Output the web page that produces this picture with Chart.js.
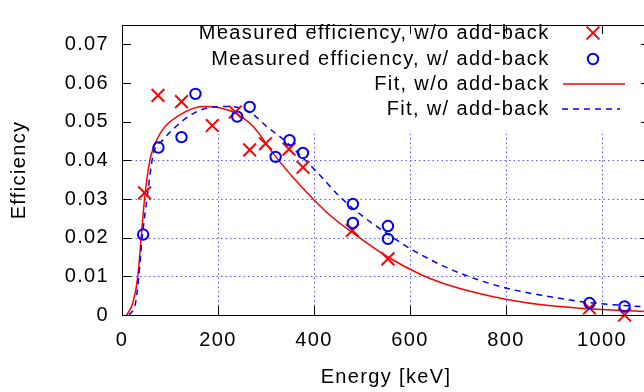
<!DOCTYPE html>
<html>
<head>
<meta charset="utf-8">
<script src="https://cdn.jsdelivr.net/npm/chart.js@4.4.1/dist/chart.umd.min.js"></script>
<style>
html, body { margin: 0; padding: 0; background: #fff; overflow: hidden; }
#wrap { width: 644px; height: 392px; overflow: hidden; position: relative; }
#wrap canvas { position: absolute; left: 0; top: 0; }
</style>
</head>
<body>
<div id="wrap"><canvas id="effChart" width="662" height="392"></canvas></div>
<script>
// measured points (keV, efficiency)
const measEnergyNoAB = [47, 75, 124, 188, 236, 266, 299, 348, 377, 480, 554, 974, 1047];
const measEffNoAB    = [0.0316, 0.0568, 0.0552, 0.0490, 0.0525, 0.0427, 0.0443, 0.0429, 0.0382, 0.0219, 0.0145, 0.0018, 0.0000];

const measEnergyAB = [44, 76, 124, 153, 240, 266, 320, 349, 377, 481, 481, 554, 554, 974, 1047];
const measEffAB    = [0.0208, 0.0433, 0.0460, 0.0572, 0.0513, 0.0538, 0.0409, 0.0452, 0.0419, 0.0287, 0.0238, 0.0230, 0.0197, 0.0031, 0.0022];

// fit curves
const fitEnergyNoAB = [10, 23, 33, 40, 47, 58, 65, 85, 120, 169, 203, 238, 273, 315, 356, 398, 437, 490, 554, 620, 676, 740, 799, 884, 999, 1100];
const fitEffNoAB    = [0, 0.0033, 0.010, 0.020, 0.030, 0.040, 0.0431, 0.0480, 0.0517, 0.0539, 0.0536, 0.0521, 0.0488, 0.0418, 0.0356, 0.0300, 0.0254, 0.0204, 0.0150, 0.0106, 0.0079, 0.0057, 0.0041, 0.0025, 0.0014, 0.0009];

const fitEnergyAB = [15, 28, 35, 42, 52, 65, 85, 113, 148, 190, 224, 266, 301, 340, 382, 412, 453, 502, 565, 600, 662, 717, 799, 884, 967, 1100];
const fitEffAB    = [0, 0.0030, 0.010, 0.020, 0.030, 0.0415, 0.0452, 0.0488, 0.0521, 0.0538, 0.0539, 0.0525, 0.0488, 0.0450, 0.0400, 0.0362, 0.0307, 0.0255, 0.0200, 0.0172, 0.0131, 0.0102, 0.0070, 0.0049, 0.0033, 0.0020];

const xTicks = [0, 200, 400, 600, 800, 1000];
const xTickLabels = ['0', '200', '400', '600', '800', '1000'];
const yTicks = [0, 0.01, 0.02, 0.03, 0.04, 0.05, 0.06, 0.07];
const yTickLabels = ['0', '0.01', '0.02', '0.03', '0.04', '0.05', '0.06', '0.07'];

const legendLabels = [
    'Measured efficiency, w/o add-back',
    'Measured efficiency, w/ add-back',
    'Fit, w/o add-back',
    'Fit, w/ add-back'
];

const RED = '#ff0000';
const BLUE = '#0000ff';
const GRID_COLOR = '#5a5aff';
const FONT = { family: '"Liberation Sans", Arial, sans-serif', size: 20 };
const LETTER_SPACING = '1.35px';
const GRID_TOP = 0.0468; // grid stops below the key box
const TICK_LEN = 9;

const toPoints = (xs, ys) => xs.map((x, i) => ({ x, y: ys[i] }));

const spacingPlugin = {
    id: 'spacing',
    beforeLayout(chart) { chart.ctx.letterSpacing = LETTER_SPACING; },
    beforeDraw(chart) { chart.ctx.letterSpacing = LETTER_SPACING; }
};

const gnuplotFrame = {
    id: 'gnuplotFrame',
    beforeDatasetsDraw(chart) {
        const { ctx, chartArea: a, scales: { x, y } } = chart;
        ctx.save();
        ctx.strokeStyle = GRID_COLOR;
        ctx.lineWidth = 1;
        ctx.setLineDash([1.5, 3]);
        xTicks.forEach(v => {
            if (v === 0) return;
            const px = Math.round(x.getPixelForValue(v)) + 0.5;
            ctx.beginPath();
            ctx.moveTo(px, a.bottom);
            ctx.lineTo(px, y.getPixelForValue(GRID_TOP));
            ctx.stroke();
        });
        yTicks.forEach(v => {
            if (v === 0 || v > GRID_TOP) return;
            const py = Math.round(y.getPixelForValue(v)) + 0.5;
            ctx.beginPath();
            ctx.moveTo(a.left, py);
            ctx.lineTo(a.right, py);
            ctx.stroke();
        });
        ctx.restore();
    },
    afterDatasetsDraw(chart) {
        const { ctx, chartArea: a, scales: { x, y } } = chart;
        ctx.save();
        ctx.strokeStyle = '#000';
        ctx.lineWidth = 1;
        ctx.setLineDash([]);
        ctx.beginPath();
        xTicks.forEach(v => {
            const px = Math.round(x.getPixelForValue(v)) + 0.5;
            ctx.moveTo(px, a.bottom); ctx.lineTo(px, a.bottom - TICK_LEN);
            ctx.moveTo(px, a.top); ctx.lineTo(px, a.top + TICK_LEN);
        });
        yTicks.forEach(v => {
            const py = Math.round(y.getPixelForValue(v)) + 0.5;
            ctx.moveTo(a.left, py); ctx.lineTo(a.left + TICK_LEN, py);
            ctx.moveTo(a.right, py); ctx.lineTo(a.right - TICK_LEN, py);
        });
        ctx.stroke();
        ctx.strokeRect(Math.round(a.left) + 0.5, Math.round(a.top) + 0.5,
            Math.round(a.right - a.left), Math.round(a.bottom - a.top));
        ctx.restore();
    },
    afterDraw(chart) {
        // gnuplot style key: text right-aligned, sample on the right
        const ctx = chart.ctx;
        const textRight = 549.5;
        const rows = [33, 59, 84, 109];
        const mx = 593;
        ctx.save();
        ctx.letterSpacing = LETTER_SPACING;
        ctx.font = `${FONT.size}px ${FONT.family}`;
        ctx.fillStyle = '#000';
        ctx.textAlign = 'right';
        ctx.textBaseline = 'middle';
        legendLabels.forEach((t, i) => ctx.fillText(t, textRight, rows[i]));

        ctx.strokeStyle = RED;
        ctx.lineWidth = 2;
        ctx.beginPath();
        ctx.moveTo(mx - 6.4, rows[0] - 6.4); ctx.lineTo(mx + 6.4, rows[0] + 6.4);
        ctx.moveTo(mx + 6.4, rows[0] - 6.4); ctx.lineTo(mx - 6.4, rows[0] + 6.4);
        ctx.stroke();

        ctx.strokeStyle = BLUE;
        ctx.beginPath();
        ctx.arc(mx, rows[1], 5.2, 0, Math.PI * 2);
        ctx.stroke();

        ctx.lineWidth = 1.5;
        ctx.strokeStyle = RED;
        ctx.beginPath(); ctx.moveTo(563, rows[2]); ctx.lineTo(625, rows[2]); ctx.stroke();

        ctx.strokeStyle = BLUE;
        ctx.setLineDash([6, 5]);
        ctx.beginPath(); ctx.moveTo(562, rows[3]); ctx.lineTo(620, rows[3]); ctx.stroke();
        ctx.restore();
    }
};

new Chart(document.getElementById('effChart'), {
    type: 'scatter',
    data: {
        datasets: [
            {
                label: legendLabels[0],
                data: toPoints(measEnergyNoAB, measEffNoAB),
                pointStyle: 'crossRot',
                pointRadius: 9,
                borderColor: RED,
                backgroundColor: RED,
                borderWidth: 2,
                clip: false,
                order: 1
            },
            {
                label: legendLabels[1],
                data: toPoints(measEnergyAB, measEffAB),
                pointStyle: 'circle',
                pointRadius: 5.2,
                borderColor: BLUE,
                backgroundColor: 'rgba(0,0,0,0)',
                borderWidth: 2,
                clip: false,
                order: 0
            },
            {
                type: 'line',
                label: legendLabels[2],
                data: toPoints(fitEnergyNoAB, fitEffNoAB),
                borderColor: RED,
                borderWidth: 1.5,
                pointRadius: 0,
                fill: false,
                cubicInterpolationMode: 'monotone',
                order: 3
            },
            {
                type: 'line',
                label: legendLabels[3],
                data: toPoints(fitEnergyAB, fitEffAB),
                borderColor: BLUE,
                borderWidth: 1.5,
                borderDash: [6, 5],
                pointRadius: 0,
                fill: false,
                cubicInterpolationMode: 'monotone',
                order: 2
            }
        ]
    },
    options: {
        responsive: false,
        animation: false,
        events: [],
        layout: { padding: { left: 0, right: 12, top: 10, bottom: 0 } },
        plugins: { legend: { display: false }, tooltip: { enabled: false } },
        scales: {
            x: {
                type: 'linear',
                min: 0,
                max: 1100,
                grid: { display: false, drawTicks: false },
                border: { display: false },
                afterBuildTicks: s => { s.ticks = xTicks.map(v => ({ value: v })); },
                afterFit: s => { s.height = 77; },
                ticks: {
                    autoSkip: false,
                    maxRotation: 0,
                    padding: 13,
                    color: '#000',
                    font: FONT,
                    callback: (v, i) => xTickLabels[i]
                },
                title: {
                    display: true,
                    text: 'Energy [keV]',
                    color: '#000',
                    font: FONT,
                    padding: { top: 0, bottom: 3 }
                }
            },
            y: {
                type: 'linear',
                min: 0,
                max: 0.075,
                grid: { display: false, drawTicks: false },
                border: { display: false },
                afterBuildTicks: s => { s.ticks = yTicks.map(v => ({ value: v })); },
                afterFit: s => { s.width = 122; },
                ticks: {
                    autoSkip: false,
                    padding: 13,
                    color: '#000',
                    font: FONT,
                    callback: (v, i) => yTickLabels[i]
                },
                title: {
                    display: true,
                    text: 'Efficiency',
                    color: '#000',
                    font: FONT,
                    padding: { top: 7, bottom: 0 }
                }
            }
        }
    },
    plugins: [spacingPlugin, gnuplotFrame]
});
</script>
</body>
</html>
